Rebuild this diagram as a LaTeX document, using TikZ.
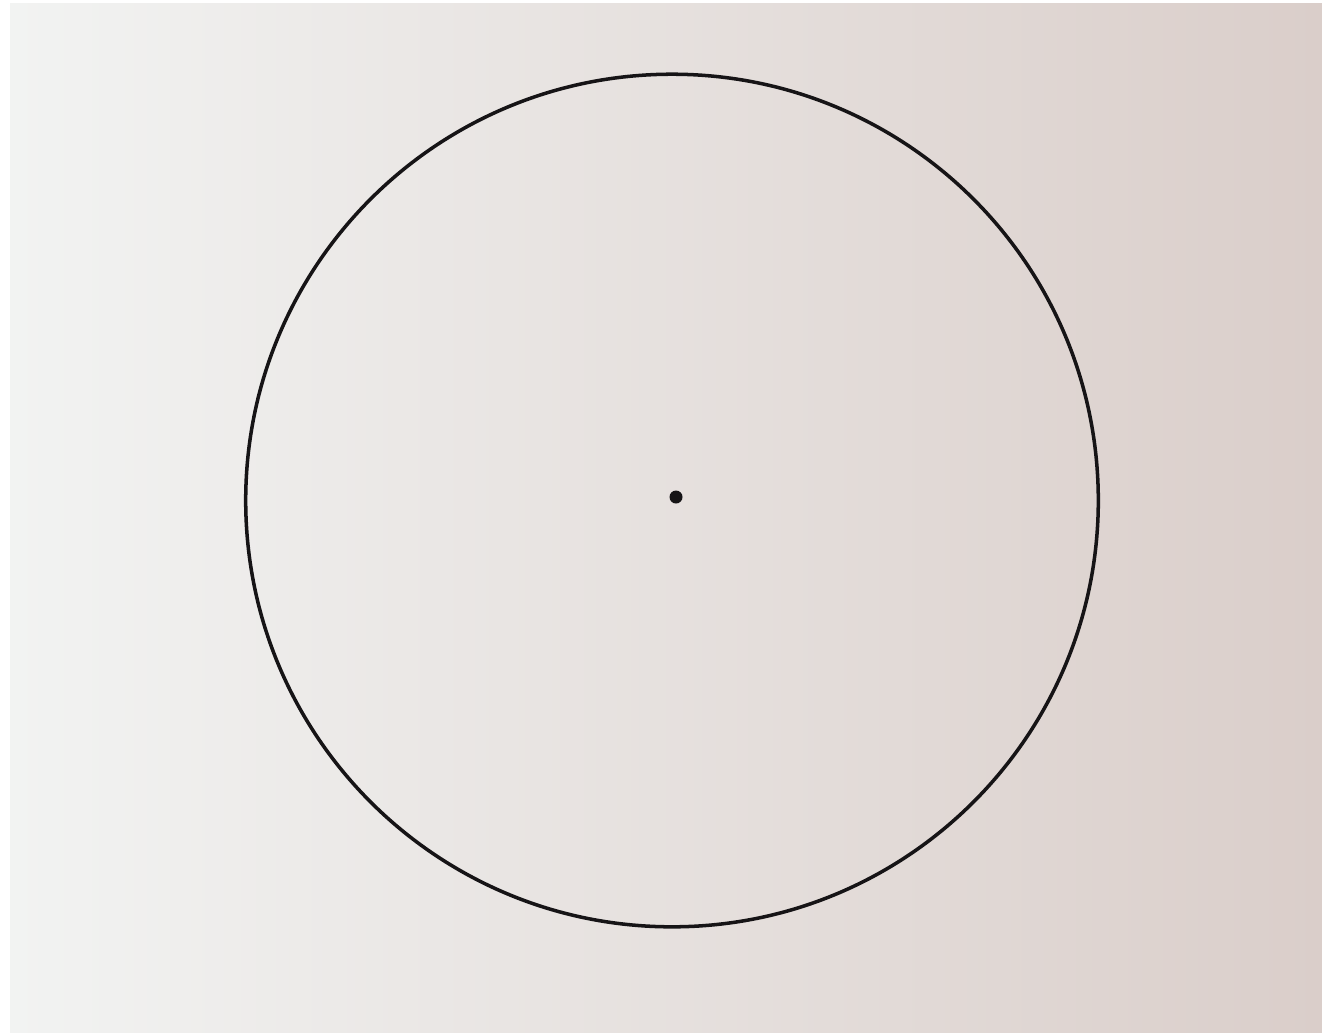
\documentclass[tikz,border=0pt]{standalone}
\usepackage{tikz}
\definecolor{paperleft}{RGB}{242,243,242}
\definecolor{papermid}{RGB}{237,232,227}
\definecolor{paperright}{RGB}{218,206,202}
\definecolor{ink}{RGB}{22,20,22}
\tikzset{
  pen/.style={draw=ink,line width=1pt},
  paper/.style={left color=paperleft,middle color=papermid,right color=paperright}
}
\begin{document}
\begin{tikzpicture}[x=0.01cm,y=-0.01cm]
    \useasboundingbox (0,0) rectangle (1322,1035);
    \fill[white] (0,0) rectangle (1322,1035);
    \shade[paper] (10,3) rectangle (1322,1032);
    \coordinate (centre) at (672,500.5);
    \draw[pen] (centre) circle (426.3);
    \fill[ink] (676,497) circle (6.5);
  \end{tikzpicture}
\end{document}
